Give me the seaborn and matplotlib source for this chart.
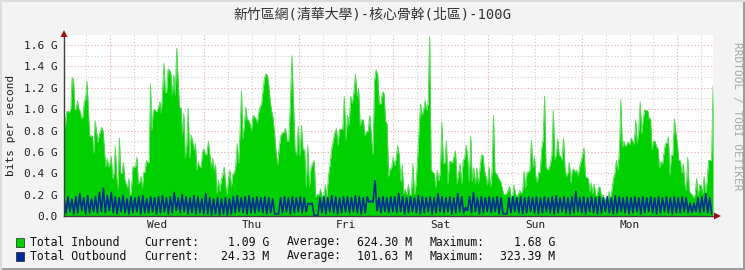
import numpy as np
import matplotlib
matplotlib.use("Agg")
import matplotlib.pyplot as plt
import seaborn as sns
from matplotlib.patches import Rectangle, Polygon

# ---------------- data ----------------
title = "新竹區網(清華大學)-核心骨幹(北區)-100G"
day_labels = ["Wed", "Thu", "Fri", "Sat", "Sun", "Mon"]
ytick_values = [0.0, 0.2, 0.4, 0.6, 0.8, 1.0, 1.2, 1.4, 1.6]
ytick_labels = ["0.0", "0.2 G", "0.4 G", "0.6 G", "0.8 G", "1.0 G", "1.2 G", "1.4 G", "1.6 G"]

# hours since left edge of the graph; first midnight (Wed 00:00)
first_midnight_h = 11.68
span_h = 164.83

# inbound (G bit/s), read piecewise; segment start times in hours
seg_starts_h = [0.0, 26.41, 53.84, 81.27, 108.70, 136.13]
inbound_tue = [1.04, 0.84, 0.98, 0.98, 0.97, 1.0, 1.30, 1.28, 1.0, 1.0, 1.08, 1.0, 0.98, 0.91, 0.93,
               1.07, 1.10, 1.26, 1.0, 0.75, 0.75, 0.75, 0.59, 0.89, 0.80, 0.69, 0.75, 0.80, 0.83, 0.79,
               0.60, 0.46, 0.54, 0.46, 0.49, 0.56, 0.35, 0.40, 0.65, 0.37, 0.26, 0.73, 0.40, 0.40, 0.50,
               0.35, 0.30, 0.26, 0.35, 0.15, 0.27, 0.46, 0.46, 0.46, 0.55, 0.30, 0.32, 0.37, 0.26, 0.41,
               0.41, 0.52, 0.50, 0.50, 1.24, 0.80, 0.98, 1.0, 0.98, 0.98, 1.02, 1.07, 0.96, 1.18, 1.43,
               1.15, 1.16]
inbound_wed = [1.37, 1.37, 1.33, 1.13, 1.32, 1.13, 1.57, 1.27, 1.02, 1.01, 0.76, 0.96, 0.54, 0.66, 1.01,
               0.54, 0.76, 0.71, 0.62, 0.68, 0.43, 0.51, 0.46, 0.46, 0.60, 0.63, 0.57, 0.58, 0.70, 0.58,
               0.45, 0.54, 0.43, 0.48, 0.21, 0.34, 0.23, 0.34, 0.38, 0.46, 0.29, 0.20, 0.35, 0.43, 0.27,
               0.39, 0.40, 0.46, 0.68, 0.49, 0.79, 1.17, 0.72, 0.85, 1.02, 0.90, 0.90, 0.86, 0.80, 0.94,
               0.93, 0.91, 0.87, 0.97, 1.02, 1.05, 1.18, 1.29, 1.33, 1.32, 1.22, 1.07, 0.98, 0.91, 0.77]
inbound_thu = [0.60, 0.48, 0.64, 0.75, 0.78, 0.78, 0.82, 0.70, 0.70, 1.05, 1.50, 1.05, 0.62, 0.57, 0.84,
               0.56, 0.85, 0.62, 0.62, 0.27, 0.66, 0.27, 0.45, 0.49, 0.52, 0.18, 0.20, 0.20, 0.25, 0.18,
               0.18, 0.29, 0.18, 0.37, 0.48, 0.62, 0.70, 0.78, 0.82, 0.66, 0.81, 0.81, 0.81, 1.12, 0.71,
               0.94, 0.85, 1.12, 1.05, 1.15, 1.33, 1.12, 1.19, 0.84, 0.90, 0.90, 0.75, 0.79, 0.79, 0.94,
               0.75, 0.57, 1.26, 1.37, 1.32, 1.05, 1.05, 1.16]
inbound_fri = [1.15, 0.89, 0.86, 0.37, 0.44, 0.45, 0.55, 0.47, 0.54, 0.66, 0.57, 0.32, 0.48, 0.21, 0.25,
               0.20, 0.29, 0.19, 0.21, 0.49, 0.20, 0.29, 0.52, 0.80, 1.05, 0.94, 0.99, 1.08, 0.99, 1.05,
               1.68, 0.43, 0.41, 0.40, 0.27, 0.43, 0.33, 0.41, 0.88, 0.49, 0.50, 0.70, 0.30, 0.51, 0.51,
               0.49, 0.56, 0.61, 0.30, 0.40, 0.49, 0.30, 0.52, 0.54, 0.66, 0.54, 0.32, 0.75, 0.32, 0.45,
               0.30, 0.45, 0.30, 0.43, 0.57, 0.57, 0.43, 0.37, 0.29, 0.46, 0.27]
inbound_sat = [0.41, 0.94, 0.41, 0.40, 0.37, 0.34, 0.32, 0.26, 0.20, 0.20, 0.21, 0.24, 0.28, 0.18, 0.17,
               0.29, 0.21, 0.18, 0.20, 0.24, 0.21, 0.24, 0.42, 0.26, 0.41, 0.41, 0.43, 0.71, 0.45, 0.56,
               0.37, 0.31, 0.41, 0.41, 0.63, 0.71, 1.12, 0.46, 0.43, 0.44, 0.49, 0.57, 0.99, 0.53, 0.57,
               0.72, 0.57, 0.56, 0.52, 0.73, 0.45, 0.37, 0.40, 0.50, 0.31, 0.43, 0.44, 0.41, 0.43, 0.37,
               0.46, 0.51, 0.57, 0.64, 0.37, 0.36, 0.35, 0.23, 0.31, 0.21, 0.30, 0.20, 0.19, 0.27]
inbound_sun = [0.27, 0.18, 0.20, 0.15, 0.17, 0.13, 0.23, 0.15, 0.24, 0.35, 0.40, 0.52, 0.43, 0.60, 1.09,
               0.64, 0.70, 0.65, 0.67, 0.69, 0.67, 0.73, 0.70, 0.67, 0.90, 0.68, 0.79, 1.07, 0.77, 0.90,
               0.99, 0.99, 0.99, 0.91, 0.91, 0.62, 0.70, 0.70, 0.65, 0.63, 0.45, 0.51, 0.48, 0.59, 0.68,
               0.68, 0.74, 0.38, 0.57, 0.57, 0.91, 0.78, 0.68, 0.52, 0.52, 0.40, 0.49, 0.30, 0.24, 0.55,
               0.24, 0.21, 0.20, 0.17, 0.20, 0.35, 0.19, 0.29, 0.29, 0.21, 0.37, 0.21, 0.32, 0.52, 0.52,
               0.52, 1.22]
inbound_segments = [inbound_tue, inbound_wed, inbound_thu, inbound_fri, inbound_sat, inbound_sun]

# outbound (G bit/s), one value every 30 minutes from the left edge
outbound = [
    0.17, 0.03, 0.18, 0.04, 0.16, 0.02, 0.18, 0.03, 0.21, 0.05, 0.17, 0.02, 0.19, 0.03, 0.16, 0.04, 0.18, 0.03, 0.22, 0.04, 0.26, 0.03, 0.19, 0.05,
    0.22, 0.03, 0.18, 0.02, 0.17, 0.04, 0.19, 0.03, 0.16, 0.02, 0.18, 0.03, 0.17, 0.04, 0.18, 0.02, 0.19, 0.03, 0.16, 0.03, 0.18, 0.04, 0.17, 0.02,
    0.18, 0.03, 0.19, 0.04, 0.17, 0.02, 0.18, 0.03, 0.22, 0.05, 0.17, 0.03, 0.20, 0.04, 0.18, 0.02, 0.17, 0.03, 0.19, 0.02, 0.18, 0.03, 0.16, 0.02,
    0.21, 0.02, 0.17, 0.01, 0.16, 0.02, 0.17, 0.01, 0.16, 0.02, 0.17, 0.01, 0.16, 0.02, 0.18, 0.03, 0.19, 0.04, 0.17, 0.03, 0.18, 0.02, 0.19, 0.03,
    0.17, 0.03, 0.18, 0.04, 0.17, 0.03, 0.18, 0.02, 0.17, 0.03, 0.16, 0.02, 0.02, 0.02, 0.17, 0.03, 0.18, 0.04, 0.17, 0.02, 0.18, 0.03, 0.17, 0.04,
    0.18, 0.03, 0.17, 0.04, 0.12, 0.11, 0.12, 0.01, 0.00, 0.01, 0.17, 0.03, 0.18, 0.02, 0.17, 0.04, 0.19, 0.03, 0.18, 0.02, 0.17, 0.03, 0.18, 0.04,
    0.18, 0.03, 0.17, 0.04, 0.19, 0.03, 0.18, 0.02, 0.17, 0.03, 0.18, 0.13, 0.14, 0.13, 0.33, 0.05, 0.17, 0.03, 0.18, 0.04, 0.17, 0.03, 0.18, 0.04,
    0.18, 0.03, 0.21, 0.04, 0.18, 0.02, 0.17, 0.03, 0.18, 0.04, 0.17, 0.03, 0.19, 0.02, 0.18, 0.03, 0.17, 0.04, 0.18, 0.02, 0.17, 0.03, 0.21, 0.04,
    0.18, 0.03, 0.17, 0.04, 0.18, 0.02, 0.17, 0.03, 0.21, 0.04, 0.18, 0.03, 0.08, 0.05, 0.18, 0.03, 0.22, 0.04, 0.17, 0.02, 0.18, 0.03, 0.17, 0.04,
    0.18, 0.03, 0.17, 0.04, 0.18, 0.02, 0.17, 0.02, 0.02, 0.02, 0.17, 0.03, 0.18, 0.04, 0.17, 0.03, 0.18, 0.02, 0.17, 0.03, 0.18, 0.04, 0.17, 0.03,
    0.18, 0.02, 0.17, 0.03, 0.18, 0.04, 0.17, 0.03, 0.18, 0.02, 0.19, 0.03, 0.17, 0.04, 0.18, 0.03, 0.17, 0.02, 0.18, 0.03, 0.23, 0.04, 0.17, 0.03,
    0.18, 0.02, 0.17, 0.04, 0.18, 0.03, 0.17, 0.02, 0.18, 0.03, 0.17, 0.04, 0.18, 0.03, 0.17, 0.02, 0.19, 0.03, 0.18, 0.04, 0.17, 0.03, 0.18, 0.02,
    0.17, 0.03, 0.18, 0.04, 0.17, 0.02, 0.18, 0.03, 0.17, 0.04, 0.18, 0.03, 0.17, 0.02, 0.18, 0.03, 0.17, 0.04, 0.18, 0.03, 0.17, 0.02, 0.18, 0.03,
    0.17, 0.03, 0.18, 0.04, 0.17, 0.03, 0.12, 0.03, 0.12, 0.04, 0.17, 0.03, 0.18, 0.04, 0.21, 0.03, 0.17, 0.02,
]
outbound_step_h = 0.5

legend_names = ["Total Inbound", "Total Outbound"]
legend_colors = ["#00CF00", "#002A97"]
legend_current = ["1.09 G", "24.33 M"]
legend_average = ["624.30 M", "101.63 M"]
legend_maximum = ["1.68 G", "323.39 M"]

# ---------------- drawing ----------------
sns.set_theme(style="white")
plt.rcParams["font.family"] = ["DejaVu Sans Mono", "Noto Sans CJK TC"]

W, H = 745, 270
BG = "#F3F3F3"
fig = plt.figure(figsize=(W / 100, H / 100), dpi=100, facecolor=BG)

def fx(px):
    return px / W

def fy(py):
    return 1 - py / H

ax = fig.add_axes([fx(64), fy(216), fx(713) - fx(64), fy(35) - fy(216)])
ax.set_facecolor("white")
ax.set_xlim(0, span_h)
ax.set_ylim(0, 1.694)

# grid (behind data)
grid_kw = dict(linestyle=(0, (1, 2)), linewidth=0.8, zorder=0.5)
for v in np.arange(0.1, 1.7, 0.2):
    ax.axhline(v, color="#CCCCCC", **grid_kw)
for v in ytick_values[1:]:
    ax.axhline(v, color="#EBA5A5", **grid_kw)
h = first_midnight_h - 6
while h < span_h:
    is_major = abs(((h - first_midnight_h) / 24) - round((h - first_midnight_h) / 24)) < 1e-6
    ax.axvline(h, color="#EBA5A5" if is_major else "#CCCCCC", **grid_kw)
    h += 6

# inbound area
t_in = []
bounds = seg_starts_h + [span_h]
for i, seg in enumerate(inbound_segments):
    last = i == len(inbound_segments) - 1
    t_in.append(np.linspace(bounds[i], bounds[i + 1], len(seg), endpoint=last))
t_in = np.concatenate(t_in)
inbound = np.concatenate([np.array(s, dtype=float) for s in inbound_segments])
ax.fill_between(t_in, 0, inbound, color="#00CF00", linewidth=0, zorder=2)
sns.lineplot(x=t_in, y=inbound, color="#4FDB4F", linewidth=0.6, ax=ax,
             estimator=None, sort=False, zorder=2.5)

# outbound line
t_out = np.arange(len(outbound)) * outbound_step_h
sns.lineplot(x=t_out, y=outbound, color="#002A97", linewidth=1.2, ax=ax,
             estimator=None, sort=False, zorder=3)

# axes
for s in ["top", "right"]:
    ax.spines[s].set_visible(False)
for s in ["left", "bottom"]:
    ax.spines[s].set_color("#404040")
    ax.spines[s].set_linewidth(1.0)
    ax.spines[s].set_zorder(4)

ax.set_yticks(ytick_values)
ax.set_yticklabels(ytick_labels)
noon = [first_midnight_h + 12 + 24 * k for k in range(len(day_labels))]
ax.set_xticks(noon)
ax.set_xticklabels(day_labels)
ax.tick_params(axis="y", length=0, pad=4.5, labelsize=8, labelcolor="#222222")
ax.tick_params(axis="x", length=0, pad=3.0, labelsize=8, labelcolor="#222222")
ax.set_xlabel("")
ax.set_ylabel("")

# arrows
fig.patches.append(Polygon([(fx(60.5), fy(37)), (fx(67.5), fy(37)), (fx(64), fy(30))],
                           closed=True, transform=fig.transFigure, facecolor="#9A1010",
                           edgecolor="none", zorder=5))
fig.patches.append(Polygon([(fx(714), fy(212.5)), (fx(714), fy(219.5)), (fx(721), fy(216))],
                           closed=True, transform=fig.transFigure, facecolor="#9A1010",
                           edgecolor="none", zorder=5))

# texts
fig.text(fx(372), fy(14), title, ha="center", va="center", fontsize=10, color="#333333")
fig.text(fx(11), fy(125), "bits per second", rotation=90, ha="center", va="center",
         fontsize=8, color="#222222")
fig.text(fx(737), fy(116), "RRDTOOL / TOBI OETIKER", rotation=270, ha="center", va="center",
         fontsize=8, color="#AAAAAA")

rows_y = [242, 256]
for i in range(2):
    y = rows_y[i]
    fig.patches.append(Rectangle((fx(16), fy(y + 4.5)), 8 / W, 9 / H, transform=fig.transFigure,
                                 facecolor=legend_colors[i], edgecolor="#222222", linewidth=0.5))
    kw = dict(va="center", fontsize=8.3, color="#111111")
    fig.text(fx(30), fy(y), legend_names[i], ha="left", **kw)
    fig.text(fx(144), fy(y), "Current:", ha="left", **kw)
    fig.text(fx(269), fy(y), legend_current[i], ha="right", **kw)
    fig.text(fx(287), fy(y), "Average:", ha="left", **kw)
    fig.text(fx(412), fy(y), legend_average[i], ha="right", **kw)
    fig.text(fx(429), fy(y), "Maximum:", ha="left", **kw)
    fig.text(fx(555), fy(y), legend_maximum[i], ha="right", **kw)

# outer 3D-ish frame
fig.patches.append(Rectangle((0, 0), 1, 2 / H, transform=fig.transFigure, facecolor="#9C9C9C", edgecolor="none"))
fig.patches.append(Rectangle((1 - 2 / W, 0), 2 / W, 1, transform=fig.transFigure, facecolor="#9C9C9C", edgecolor="none"))
fig.patches.append(Rectangle((0, 1 - 2 / H), 1, 2 / H, transform=fig.transFigure, facecolor="#DCDCDC", edgecolor="none"))
fig.patches.append(Rectangle((0, 0), 2 / W, 1, transform=fig.transFigure, facecolor="#DCDCDC", edgecolor="none"))

fig.savefig("out.png", dpi=100, facecolor=BG)
